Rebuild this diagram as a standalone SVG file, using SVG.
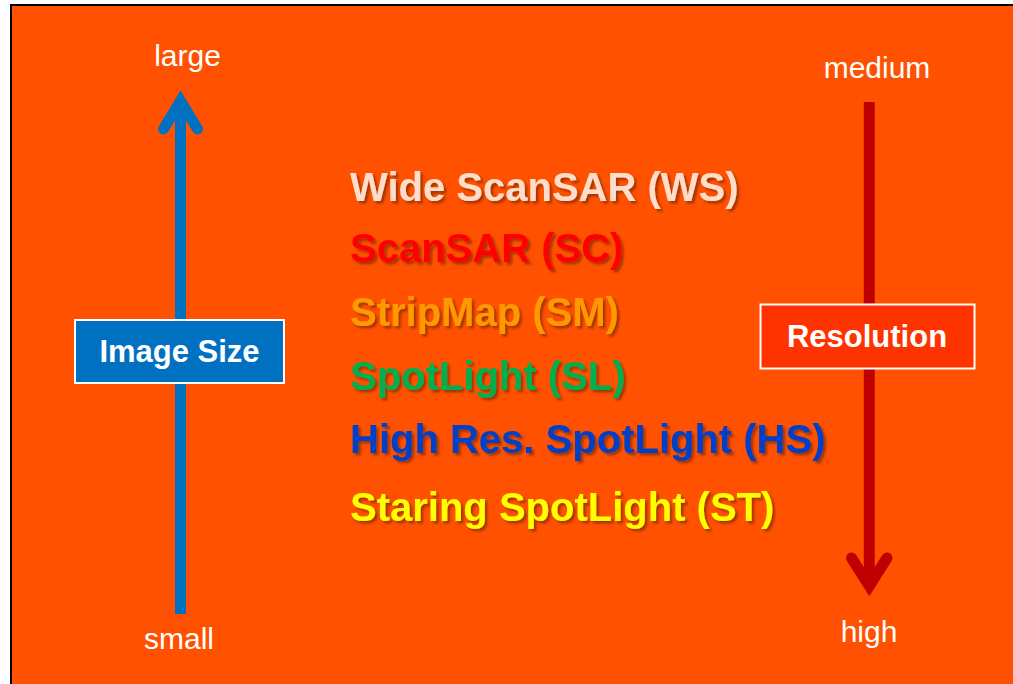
<svg xmlns="http://www.w3.org/2000/svg" width="1013" height="684" viewBox="0 0 1013 684">
<defs>
<style>
.lbl{font-family:"Liberation Sans",Arial,sans-serif;font-size:30px;fill:#FFFFFF;text-anchor:middle}
.box{font-family:"Liberation Sans",Arial,sans-serif;font-size:31px;font-weight:bold;fill:#FFFFFF;text-anchor:middle}
.mode{font-family:"Liberation Sans",Arial,sans-serif;font-size:40px;font-weight:bold;filter:url(#sh)}
.shaft{fill:none;stroke-width:11;stroke-linecap:butt}
.head{fill:none;stroke-width:11;stroke-linecap:round;stroke-linejoin:miter}
</style>
<filter id="sh" x="-5%" y="-20%" width="110%" height="150%">
<feDropShadow dx="2.5" dy="2.5" stdDeviation="1" flood-color="#000000" flood-opacity="0.35"/>
</filter>
</defs>
<rect x="0" y="0" width="1013" height="684" fill="#FFFFFF"/>
<rect x="11" y="5" width="1012" height="690" fill="#FF5100" stroke="#000000" stroke-width="2"/>
<g id="connectors">
<g id="size-arrow" stroke="#0070C0">
<line class="shaft" x1="180.5" y1="614" x2="180.5" y2="104"/>
<polyline class="head" points="163.5,129 180.5,101 197.5,129"/>
</g>
<g id="resolution-arrow" stroke="#C00000">
<line class="shaft" x1="869.3" y1="102" x2="869.3" y2="584"/>
<polyline class="head" points="851.5,558 869.3,586 887,558"/>
</g>
</g>
<g id="label-large"><text class="lbl" x="187.5" y="66">large</text></g>
<g id="label-small"><text class="lbl" x="179" y="649">small</text></g>
<g id="label-medium"><text class="lbl" x="877" y="78">medium</text></g>
<g id="label-high"><text class="lbl" x="869" y="642">high</text></g>
<g id="image-size">
<rect x="75" y="320" width="209" height="63" fill="#0070C0" stroke="#FFFFFF" stroke-width="2"/>
<text class="box" x="179.5" y="362">Image Size</text>
</g>
<g id="resolution">
<rect x="760.5" y="304.5" width="214" height="64" fill="#FF3300" stroke="#FFFFFF" stroke-width="2"/>
<text class="box" x="867" y="347">Resolution</text>
</g>
<g id="mode-ws"><text class="mode" x="350" y="201" fill="#FFDDCB">Wide ScanSAR (WS)</text></g>
<g id="mode-sc"><text class="mode" x="350" y="262" fill="#FF0000">ScanSAR (SC)</text></g>
<g id="mode-sm"><text class="mode" x="350" y="326" fill="#FF9900">StripMap (SM)</text></g>
<g id="mode-sl"><text class="mode" x="350" y="390" fill="#00B050">SpotLight (SL)</text></g>
<g id="mode-hs"><text class="mode" x="350" y="453" fill="#0040C8">High Res. SpotLight (HS)</text></g>
<g id="mode-st"><text class="mode" x="350" y="521" fill="#FFFF00">Staring SpotLight (ST)</text></g>
</svg>
